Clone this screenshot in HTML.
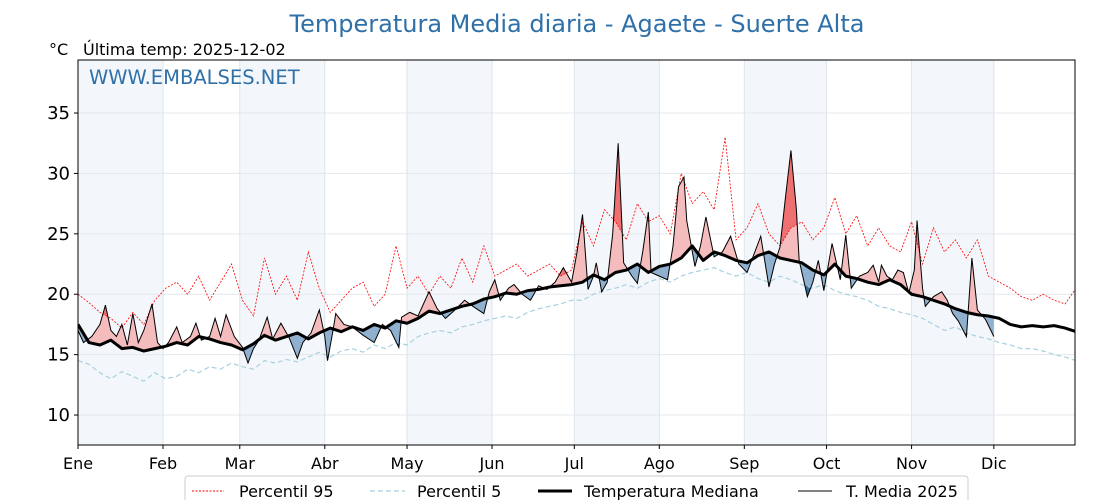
<!DOCTYPE html>
<html><head><meta charset="utf-8"><style>
body{margin:0;background:#fff;}
svg{display:block;font-family:"DejaVu Sans","Liberation Sans",sans-serif;}
</style></head><body>
<svg id="chart" width="1120" height="500" viewBox="0 0 1120 500" xmlns="http://www.w3.org/2000/svg">
<text x="577" y="32" text-anchor="middle" font-size="24" fill="#3070a8">Temperatura Media diaria - Agaete - Suerte Alta</text>
<text x="49" y="55" font-size="16" fill="#000">°C</text>
<text x="83" y="55" font-size="16" fill="#000">Última temp: 2025-12-02</text>
<g id="plot"></g>
<rect x="78" y="60" width="997" height="385" fill="none" stroke="#000" stroke-width="1"/>
<text x="89" y="84" font-size="19.5" fill="#3070a8">WWW.EMBALSES.NET</text>
<g id="xlabels"></g>
<g id="ylabels"></g>
<g>
<rect x="185" y="476" width="783" height="30" rx="3" fill="#fff" stroke="#ccc"/>
<line x1="192" y1="491" x2="224" y2="491" stroke="red" stroke-width="1" stroke-dasharray="2,1.5"/>
<text x="239" y="497" font-size="16">Percentil 95</text>
<line x1="370" y1="491" x2="405" y2="491" stroke="#a8d0e0" stroke-width="1.2" stroke-dasharray="5,3"/>
<text x="417" y="497" font-size="16">Percentil 5</text>
<line x1="538" y1="491" x2="572" y2="491" stroke="#000" stroke-width="3"/>
<text x="584" y="497" font-size="16">Temperatura Mediana</text>
<line x1="798" y1="491" x2="832" y2="491" stroke="#000" stroke-width="1"/>
<text x="846" y="497" font-size="16">T. Media 2025</text>
</g>
</svg>
<script>
const monthLabels=["Ene","Feb","Mar","Abr","May","Jun","Jul","Ago","Sep","Oct","Nov","Dic"];
const monthStarts=[0,31,59,90,120,151,181,212,243,273,304,334];
const yTicks=[10,15,20,25,30,35];
const seriesStep=4;
const median=[17.5,16.0,15.8,16.2,15.5,15.6,15.3,15.5,15.7,16.0,15.8,16.5,16.3,16.0,15.8,15.4,15.9,16.6,16.2,16.5,16.8,16.3,16.8,17.2,16.9,17.3,17.0,17.5,17.2,17.8,17.6,18.0,18.6,18.4,18.7,19.0,19.2,19.6,19.8,20.1,20.0,20.3,20.4,20.6,20.7,20.8,21.0,21.6,21.2,21.8,22.0,22.5,21.8,22.3,22.5,23.0,24.0,22.8,23.5,23.2,22.8,22.6,23.2,23.5,23.0,22.8,22.6,22.0,21.6,22.5,21.5,21.3,21.0,20.8,21.2,20.8,20.0,19.8,19.5,19.2,18.8,18.5,18.3,18.2,18.0,17.5,17.3,17.4,17.3,17.4,17.2,16.9];
const p95=[20.0,19.3,18.5,18.0,17.2,18.5,17.5,19.5,20.5,21.0,20.0,21.5,19.5,21.0,22.5,19.5,18.2,23.0,20.0,21.5,19.5,23.5,20.5,18.5,19.5,20.5,21.0,19.0,20.0,24.0,20.5,21.5,20.0,21.5,20.5,23.0,21.0,24.0,21.5,22.0,22.5,21.5,22.0,22.5,21.5,22.0,26.0,24.0,27.0,26.0,24.5,27.5,26.0,26.5,25.0,30.0,27.5,28.5,27.0,33.0,24.5,25.5,27.5,25.0,24.0,25.5,26.0,24.5,25.5,28.0,25.0,26.5,24.0,25.5,24.0,23.5,26.0,22.5,25.5,23.5,24.5,23.0,24.5,21.5,21.0,20.5,19.8,19.5,20.0,19.5,19.2,20.5];
const p5=[14.5,14.2,13.5,13.0,13.6,13.2,12.8,13.5,13.0,13.2,13.8,13.5,14.0,13.8,14.3,14.0,13.8,14.5,14.3,14.6,14.4,14.8,15.2,14.8,15.3,15.5,15.2,15.8,15.5,16.0,15.8,16.5,16.8,17.0,16.8,17.3,17.5,17.8,18.0,18.2,18.0,18.5,18.8,19.0,19.2,19.5,19.5,20.0,20.3,20.5,20.8,20.5,21.0,21.3,21.0,21.5,21.8,22.0,22.2,21.8,21.5,21.8,21.3,21.0,21.5,21.2,20.8,20.5,20.8,20.3,20.0,19.8,19.5,19.0,18.8,18.5,18.3,18.0,17.5,17.0,17.3,16.8,16.5,16.3,16.0,15.8,15.5,15.5,15.3,15.0,14.8,14.5];
const t2025Days=[0,2,5,8,10,12,14,16,18,20,22,24,27,29,31,33,36,38,41,43,45,48,50,52,54,57,60,62,64,66,69,71,74,77,80,82,85,88,90,91,93,94,97,100,104,108,111,114,117,118,121,124,128,131,134,137,141,144,148,150,152,154,157,159,162,165,168,171,174,177,180,182,184,186,188,189,191,193,195,197,199,202,204,206,208,209,212,215,217,219,221,222,225,227,229,232,235,238,241,244,246,249,252,254,256,258,260,262,263,266,268,270,272,275,278,280,282,285,288,290,292,293,295,297,299,301,303,305,306,308,309,312,315,317,319,321,324,326,328,331,334];
const t2025Vals=[17.0,16.0,16.5,17.5,19.1,17.0,16.5,17.5,15.8,18.4,16.0,17.0,19.2,16.0,15.5,16.0,17.3,16.0,16.5,17.6,16.2,16.5,18.0,16.5,18.3,16.5,15.6,14.3,15.5,16.2,18.1,16.3,17.6,16.4,14.7,16.0,16.8,18.7,16.5,14.5,17.0,18.4,17.5,17.3,16.6,16.0,17.5,17.0,15.6,18.1,18.5,18.2,20.2,18.8,18.0,18.6,19.5,19.0,18.4,20.2,21.2,19.5,20.5,20.8,20.0,19.5,20.7,20.4,21.0,22.2,21.0,23.5,26.6,20.4,21.5,22.6,20.2,21.0,25.0,32.5,22.6,21.5,20.9,23.6,26.8,21.8,21.5,21.2,24.0,28.9,29.7,26.1,22.3,24.0,26.4,23.1,23.5,24.8,22.5,21.8,23.0,24.8,20.6,22.5,23.9,28.0,31.9,27.0,22.8,19.8,21.0,22.8,20.3,24.2,21.2,24.9,20.5,21.5,21.8,22.4,21.0,22.4,21.5,21.2,22.0,21.8,20.1,22.0,26.1,20.5,19.0,19.8,20.2,19.5,18.4,17.8,16.5,23.0,18.7,17.9,16.5];

const X0=78,X1=1075,Y0=60,Y1=445,DMAX=363.6,TMIN=7.52,TMAX=39.39;
const xs=d=>X0+(X1-X0)*d/DMAX;
const ys=t=>Y1-(Y1-Y0)*(t-TMIN)/(TMAX-TMIN);
const NS="http://www.w3.org/2000/svg";
const plot=document.getElementById('plot');
function mk(tag,attrs,parent){const e=document.createElementNS(NS,tag);for(const k in attrs)e.setAttribute(k,attrs[k]);(parent||plot).appendChild(e);return e;}
const defs=mk('defs',{});const cp=mk('clipPath',{id:'clip'},defs);mk('rect',{x:X0,y:Y0,width:X1-X0,height:Y1-Y0},cp);
monthStarts.forEach((m,i)=>{if(i%2===0){const end=i+1<monthStarts.length?monthStarts[i+1]:DMAX;
const r=mk('rect',{x:xs(m),y:Y0,width:xs(end)-xs(m),height:Y1-Y0,fill:'#f3f7fb'});

}});
yTicks.forEach(t=>{const l=mk('line',{x1:X0,x2:X1,y1:ys(t),y2:ys(t),stroke:'#e4e8ec','stroke-width':1});

});
monthStarts.forEach(m=>{const l=mk('line',{x1:xs(m),x2:xs(m),y1:Y0,y2:Y1,stroke:'#dde4ea','stroke-width':1});

});
function interpStep(arr,d){const i=Math.floor(d/seriesStep);const f=(d-i*seriesStep)/seriesStep;const a=arr[Math.min(i,arr.length-1)],b=arr[Math.min(i+1,arr.length-1)];return a+(b-a)*f;}
function interpPts(days,vals,d){for(let i=0;i<days.length-1;i++){if(d>=days[i]&&d<=days[i+1]){return vals[i]+(vals[i+1]-vals[i])*(d-days[i])/(days[i+1]-days[i]);}}return vals[vals.length-1];}
const g=mk('g',{'clip-path':'url(#clip)'});
const lastDay=t2025Days[t2025Days.length-1];
const fineD=[];for(let d=0;d<=lastDay;d+=0.5)fineD.push(d);
function band(fnTop,fnBase,color,name){let top=fineD.map(d=>xs(d)+','+ys(fnTop(d)));let base=fineD.slice().reverse().map(d=>xs(d)+','+ys(fnBase(d)));
const p=mk('polygon',{points:top.concat(base).join(' '),fill:color,stroke:'none'},g);

}
const T=d=>interpPts(t2025Days,t2025Vals,d),M=d=>interpStep(median,d),P95=d=>interpStep(p95,d),P5=d=>interpStep(p5,d);
band(d=>Math.max(T(d),M(d)),M,'#f4bcbc','above-median-fill');
band(d=>Math.min(T(d),M(d)),M,'#8fb1cf','below-median-fill');
band(d=>Math.max(T(d),P95(d)),P95,'#ee7070','above-p95-fill');
band(d=>Math.min(T(d),P5(d)),P5,'#2f6a9e','below-p5-fill');
function line(pts,attrs,name){const p=mk('polyline',Object.assign({points:pts.join(' '),fill:'none'},attrs),g);

}
const stepPts=arr=>arr.map((v,i)=>xs(i*seriesStep)+','+ys(v));
line(stepPts(p95),{stroke:'red','stroke-width':0.8,'stroke-dasharray':'2,1.5'},'p95-line');
line(stepPts(p5),{stroke:'#a8d0e0','stroke-width':1.2,'stroke-dasharray':'5,3'},'p5-line');
line(stepPts(median),{stroke:'#000','stroke-width':3,'stroke-linejoin':'round'},'median-line');
line(t2025Days.map((d,i)=>xs(d)+','+ys(t2025Vals[i])),{stroke:'#000','stroke-width':1},'t2025-line');
const xl=document.getElementById('xlabels'),yl=document.getElementById('ylabels');
monthLabels.forEach((m,i)=>{mk('line',{x1:xs(monthStarts[i]),x2:xs(monthStarts[i]),y1:Y1,y2:Y1+4,stroke:'#000'},xl);
const t=mk('text',{x:xs(monthStarts[i]),y:469,'text-anchor':'middle','font-size':16},xl);t.textContent=m;

});
yTicks.forEach(v=>{mk('line',{x1:X0-4,x2:X0,y1:ys(v),y2:ys(v),stroke:'#000'},yl);
const t=mk('text',{x:X0-8,y:ys(v)+6,'text-anchor':'end','font-size':18},yl);t.textContent=v;

});
</script>
</body></html>
